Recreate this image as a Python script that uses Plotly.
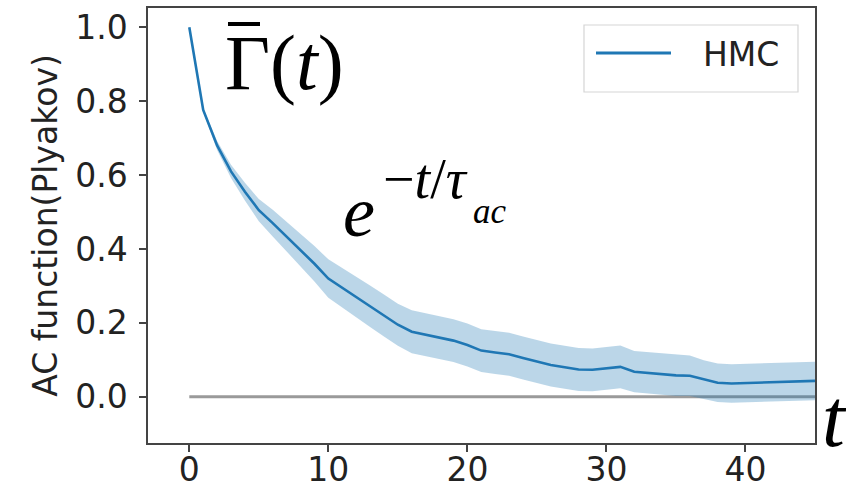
import numpy as np
import plotly.graph_objects as go

# ---- data ----
t = list(range(0, 46))
acf_mean = [1.0, 0.776, 0.68, 0.61, 0.555, 0.505, 0.47, 0.433, 0.397, 0.36,
            0.32, 0.295, 0.27, 0.245, 0.22, 0.195, 0.176, 0.168, 0.162, 0.152,
            0.14, 0.125, 0.12, 0.115, 0.105, 0.095, 0.086, 0.08, 0.074, 0.073,
            0.076, 0.081, 0.068, 0.065, 0.06, 0.058, 0.057, 0.047, 0.038, 0.036,
            0.037, 0.038, 0.039, 0.04, 0.041, 0.043]
acf_err = [0.0, 0.005, 0.012, 0.018, 0.024, 0.03, 0.036, 0.04, 0.044, 0.048,
           0.052, 0.054, 0.055, 0.056, 0.057, 0.057, 0.058, 0.058, 0.058, 0.058,
           0.058, 0.058, 0.058, 0.058, 0.058, 0.058, 0.058, 0.058, 0.058, 0.058,
           0.058, 0.058, 0.056, 0.056, 0.056, 0.056, 0.055, 0.052, 0.052, 0.052,
           0.052, 0.052, 0.052, 0.052, 0.052, 0.052]
zero_level = [0.0] * len(t)
series_name = "HMC"
x_ticks = [0, 10, 20, 30, 40]
y_ticks = [0.0, 0.2, 0.4, 0.6, 0.8, 1.0]

mean = np.array(acf_mean)
err = np.array(acf_err)

C0 = "#1f77b4"
BAND = "rgba(31,119,180,0.3)"
TXT = "#222222"
FONT = "DejaVu Sans"
SERIF = "Liberation Serif"

fig = go.Figure()
fig.add_trace(go.Scatter(x=t, y=zero_level, mode="lines",
                         line=dict(color="#9a9a9a", width=3),
                         showlegend=False, hoverinfo="skip"))
fig.add_trace(go.Scatter(x=t, y=mean + err, mode="lines",
                         line=dict(width=0, color=BAND),
                         showlegend=False, hoverinfo="skip"))
fig.add_trace(go.Scatter(x=t, y=mean - err, mode="lines",
                         line=dict(width=0, color=BAND), fill="tonexty",
                         fillcolor=BAND, showlegend=False, hoverinfo="skip"))
fig.add_trace(go.Scatter(x=t, y=mean, mode="lines", name=series_name,
                         line=dict(color=C0, width=2.6), showlegend=False))

W, H = 846, 488
# plot area in page pixels: x 148..815, y 8..443
PL, PR, PT, PB = 148, 815, 8, 443
pw, ph = PR - PL, PB - PT


def px(x):
    return (x - PL) / pw


def py(y):
    return (PB - y) / ph


annotations = [
    dict(text="Γ(<i>t</i>)", x=px(284), y=py(63), xanchor="center", yanchor="middle",
         font=dict(family=SERIF, size=78, color="black")),
    dict(text="<i>e</i>", x=px(341), y=py(212), xanchor="left", yanchor="middle",
         font=dict(family=SERIF, size=72, color="black")),
    dict(text="−<i>t</i>/<i>τ</i>", x=px(381), y=py(179), xanchor="left", yanchor="middle",
         font=dict(family=SERIF, size=56, color="black")),
    dict(text="<i>ac</i>", x=px(471), y=py(211), xanchor="left", yanchor="middle",
         font=dict(family=SERIF, size=35, color="black")),
    dict(text="<i>t</i>", x=px(835), y=py(418), xanchor="center", yanchor="middle",
         font=dict(family=SERIF, size=82, color="black")),
    # legend label
    dict(text=series_name, x=px(701), y=py(55), xanchor="left", yanchor="middle",
         font=dict(family=FONT, size=33, color=TXT)),
]
for a in annotations:
    a.update(xref="paper", yref="paper", showarrow=False)

shapes = [
    # macron over Gamma
    dict(type="line", xref="paper", yref="paper",
         x0=px(228), x1=px(260), y0=py(24), y1=py(24),
         line=dict(color="black", width=4)),
    # legend frame
    dict(type="rect", xref="paper", yref="paper",
         x0=px(584), x1=px(798), y0=py(92), y1=py(25),
         line=dict(color="#d5d5d5", width=1.2), fillcolor="rgba(255,255,255,0.8)",
         layer="above"),
    # legend line sample
    dict(type="line", xref="paper", yref="paper",
         x0=px(596), x1=px(671), y0=py(53), y1=py(53),
         line=dict(color=C0, width=3)),
]

fig.update_layout(
    width=W, height=H,
    margin=dict(l=PL, r=W - PR, t=PT, b=H - PB, autoexpand=False),
    paper_bgcolor="white", plot_bgcolor="white",
    font=dict(family=FONT, size=33, color=TXT),
    annotations=annotations,
    shapes=shapes,
    showlegend=False,
)
axis_common = dict(showgrid=False, zeroline=False, showline=True, mirror=True,
                   linecolor="#444444", linewidth=1.5, ticks="outside", ticklen=7,
                   tickwidth=1.5, tickcolor="#444444", ticklabeloverflow="allow",
                   tickfont=dict(family=FONT, size=33, color=TXT))
fig.update_xaxes(range=[-2.97, 45.0], tickvals=x_ticks, ticklabelstandoff=-10,
                 **axis_common)
fig.update_yaxes(range=[-0.125, 1.052], tickvals=y_ticks, tickformat=".1f",
                 ticklabelstandoff=5,
                 title=dict(text="AC function(Plyakov)", standoff=8,
                            font=dict(family=FONT, size=33, color=TXT)),
                 **axis_common)

fig.write_html("out.html", config={"displayModeBar": False},
               post_script="document.body.style.margin='0';")
